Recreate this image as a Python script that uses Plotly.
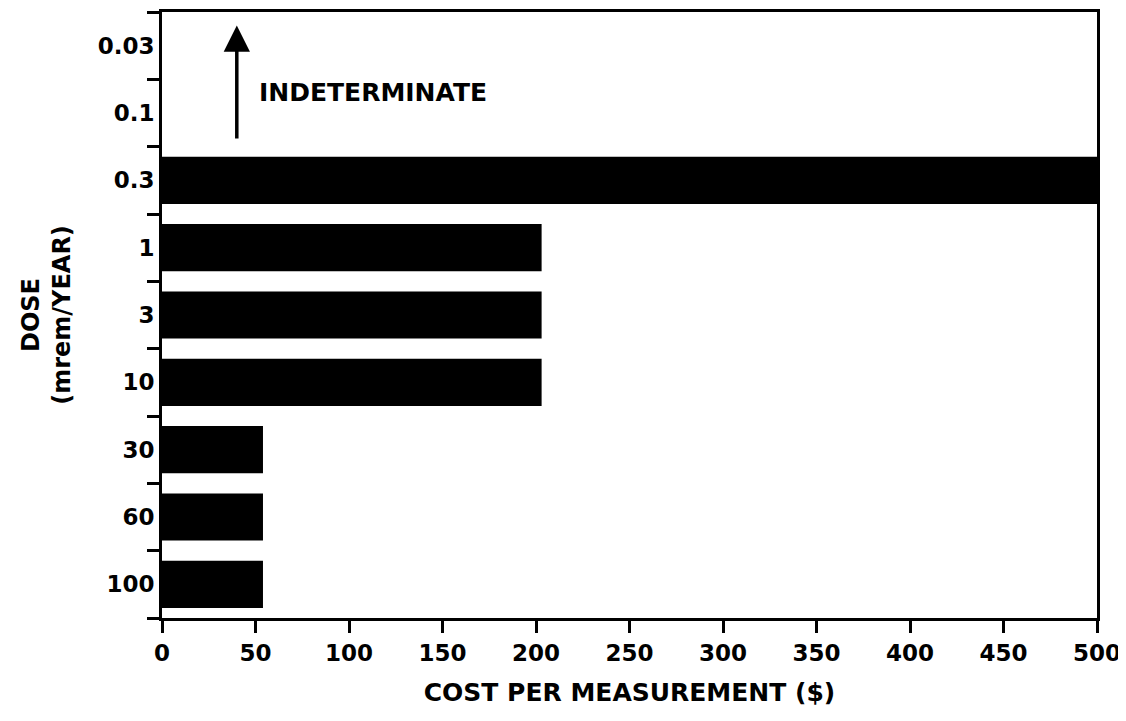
import plotly.graph_objects as go

doses = ["0.03", "0.1", "0.3", "1", "3", "10", "30", "60", "100"]
costs = [None, None, 500, 203, 203, 203, 54, 54, 54]
x_ticks = [0, 50, 100, 150, 200, 250, 300, 350, 400, 450, 500]

FONT = "DejaVu Sans"

fig = go.Figure()
fig.add_trace(go.Bar(
    y=doses, x=costs, orientation="h",
    marker=dict(color="black", line=dict(width=0)),
    showlegend=False,
))

fig.add_annotation(
    x=40, y=-0.3, xref="x", yref="y",
    ax=40, ay=1.4, axref="x", ayref="y",
    showarrow=True, arrowhead=2, arrowsize=1.5, arrowwidth=3.5,
    arrowcolor="black", text="",
)
fig.add_annotation(
    x=51, y=0.7, xref="x", yref="y",
    text="<b>INDETERMINATE</b>", showarrow=False,
    xanchor="left", yanchor="middle",
    font=dict(family=FONT, size=25, color="black"),
)

fig.update_layout(
    width=1126, height=721,
    margin=dict(l=154, r=37, t=4, b=111),
    paper_bgcolor="white", plot_bgcolor="white",
    bargap=0.3,
    font=dict(family=FONT, color="black"),
)
fig.update_xaxes(
    automargin=False,
    range=[0, 500], tickvals=x_ticks, ticktext=[f"<b>{v}</b>" for v in x_ticks],
    ticks="outside", ticklen=12, tickwidth=2.5, tickcolor="black",
    showline=True, linewidth=3, linecolor="black", mirror=True,
    showgrid=False, zeroline=False,
    tickfont=dict(family=FONT, size=23, color="black"),
    title=dict(text="<b>COST PER MEASUREMENT ($)</b>", standoff=19,
               font=dict(family=FONT, size=25, color="black")),
)
fig.update_yaxes(
    automargin=False,
    type="category", categoryorder="array", categoryarray=doses,
    range=[8.5, -0.5],
    tickvals=doses, ticktext=[f"<b>{d}</b>" for d in doses],
    tickson="boundaries",
    ticks="outside", ticklen=12, tickwidth=2.5, tickcolor="black",
    showline=True, linewidth=3, linecolor="black", mirror=True,
    showgrid=False, zeroline=False,
    tickfont=dict(family=FONT, size=23, color="black"),
    title=dict(text="<b>DOSE</b><br><b>(mrem/YEAR)</b>", standoff=21,
               font=dict(family=FONT, size=24, color="black")),
)

fig.write_html("out.html")
